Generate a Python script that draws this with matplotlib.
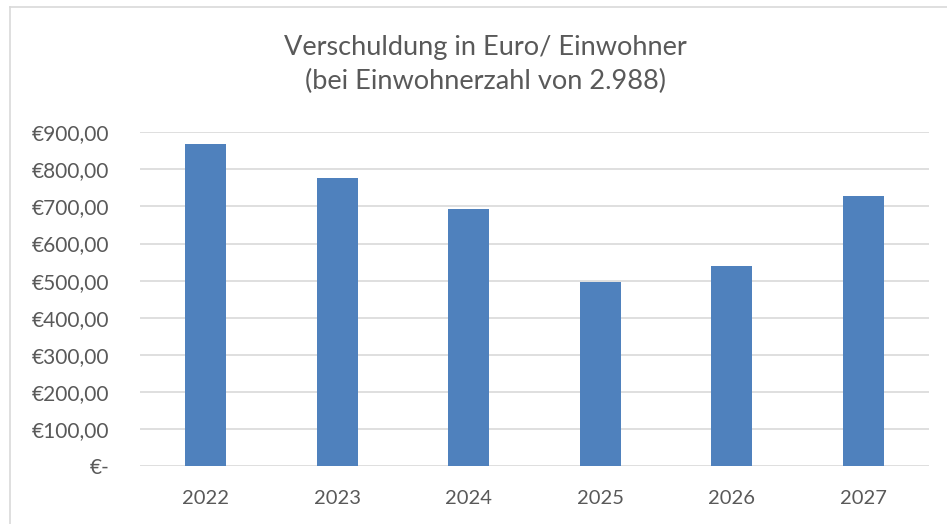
import matplotlib
matplotlib.use("Agg")
from matplotlib import pyplot as plt
from matplotlib.lines import Line2D

years = ["2022", "2023", "2024", "2025", "2026", "2027"]
debt_per_capita = [868, 777, 694, 497, 539, 727]
yticks = [0, 100, 200, 300, 400, 500, 600, 700, 800, 900]
ytick_labels = ["€-", "€100,00", "€200,00", "€300,00", "€400,00", "€500,00",
                "€600,00", "€700,00", "€800,00", "€900,00"]

text_color = "#595959"
plt.rcParams["font.family"] = ["Lato", "DejaVu Sans"]

fig = plt.figure(figsize=(9.47, 5.24), dpi=100)
W, H = 947, 524
ax = fig.add_axes([140 / W, 1 - 466 / H, 789 / W, (466 - 132.3) / H])

x = range(len(years))
ax.bar(x, debt_per_capita, width=0.31, color="#4F81BD", zorder=3)

ax.set_xlim(-0.5, len(years) - 0.5)
ax.set_ylim(0, 900)
ax.set_yticks(yticks)
ax.set_yticklabels(ytick_labels)
ax.set_xticks(list(x))
ax.set_xticklabels(years)
ax.tick_params(length=0, labelsize=14.5, colors=text_color)
ax.tick_params(axis="y", labelsize=15, pad=22)
ax.tick_params(axis="x", pad=17)
ax.grid(axis="y", color="#D9D9D9", linewidth=1.2, zorder=0)
for s in ax.spines.values():
    s.set_visible(False)

fig.text(485 / W, 1 - 48 / H, "Verschuldung in Euro/ Einwohner",
         ha="center", va="center", fontsize=19.5, color=text_color)
fig.text(485 / W, 1 - 81 / H, "(bei Einwohnerzahl von 2.988)",
         ha="center", va="center", fontsize=19.5, color=text_color)

# chart border (only top and left visible in the original crop)
fig.add_artist(Line2D([10 / W, 10 / W], [0, 1 - 7 / H], transform=fig.transFigure,
                      color="#D9D9D9", linewidth=1.2))
fig.add_artist(Line2D([10 / W, 1], [1 - 7 / H, 1 - 7 / H], transform=fig.transFigure,
                      color="#D9D9D9", linewidth=1.2))

fig.savefig("out.png", dpi=100)
